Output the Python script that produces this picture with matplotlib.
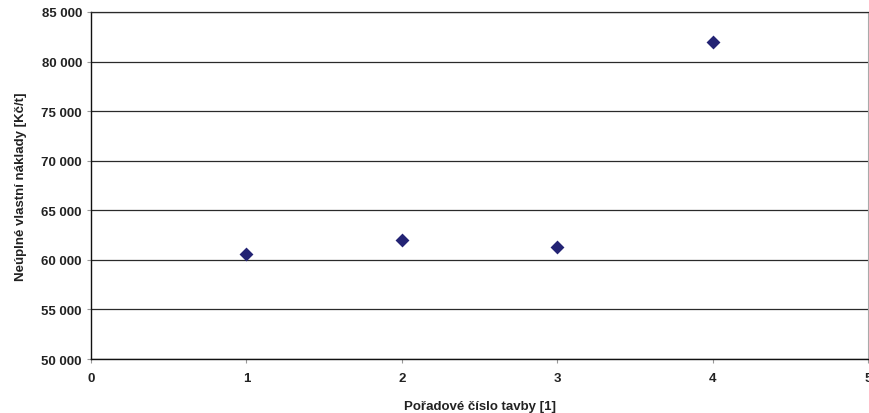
import matplotlib
matplotlib.use("Agg")
import matplotlib.pyplot as plt
from matplotlib.ticker import FuncFormatter, MultipleLocator

plt.rcParams['font.family'] = ['Liberation Sans', 'DejaVu Sans']

x_vals = [1, 2, 3, 4]
costs = [60600, 62050, 61250, 82000]
x_label = "Pořadové číslo tavby [1]"
y_label = "Neúplné vlastní náklady [Kč/t]"

fig = plt.figure(figsize=(8.7, 4.14), dpi=100)
ax = fig.add_axes([0.1046, 0.1304, 0.8931, 0.8382])

ax.scatter(x_vals, costs, marker='D', s=50, color='#232374', zorder=3, linewidths=0)

ax.set_xlim(0, 5)
ax.set_ylim(50000, 85000)
ax.xaxis.set_major_locator(MultipleLocator(1))
ax.yaxis.set_major_locator(MultipleLocator(5000))
ax.yaxis.set_major_formatter(FuncFormatter(lambda v, p: f"{int(v):,}".replace(",", " ")))

ax.grid(axis='y', color='#2a2a2a', linewidth=0.9, zorder=1)
for s in ['left', 'bottom']:
    ax.spines[s].set_color('#111111')
    ax.spines[s].set_linewidth(1.0)
ax.spines['top'].set_color('#2a2a2a')
ax.spines['top'].set_linewidth(0.9)
ax.spines['right'].set_color('#aaaaaa')
ax.spines['right'].set_linewidth(0.8)

ax.tick_params(axis='both', direction='out', length=3, width=0.8, color='#999999',
               labelsize=9.5, labelcolor='#222222')
for lbl in ax.get_xticklabels() + ax.get_yticklabels():
    lbl.set_fontweight('bold')
ax.tick_params(axis='x', pad=6)

ax.set_xlabel(x_label, fontsize=9.5, fontweight='bold', color='#222222', labelpad=12)
ax.set_ylabel(y_label, fontsize=9.5, fontweight='bold', color='#222222', labelpad=10)

fig.savefig("out.png", dpi=100)
